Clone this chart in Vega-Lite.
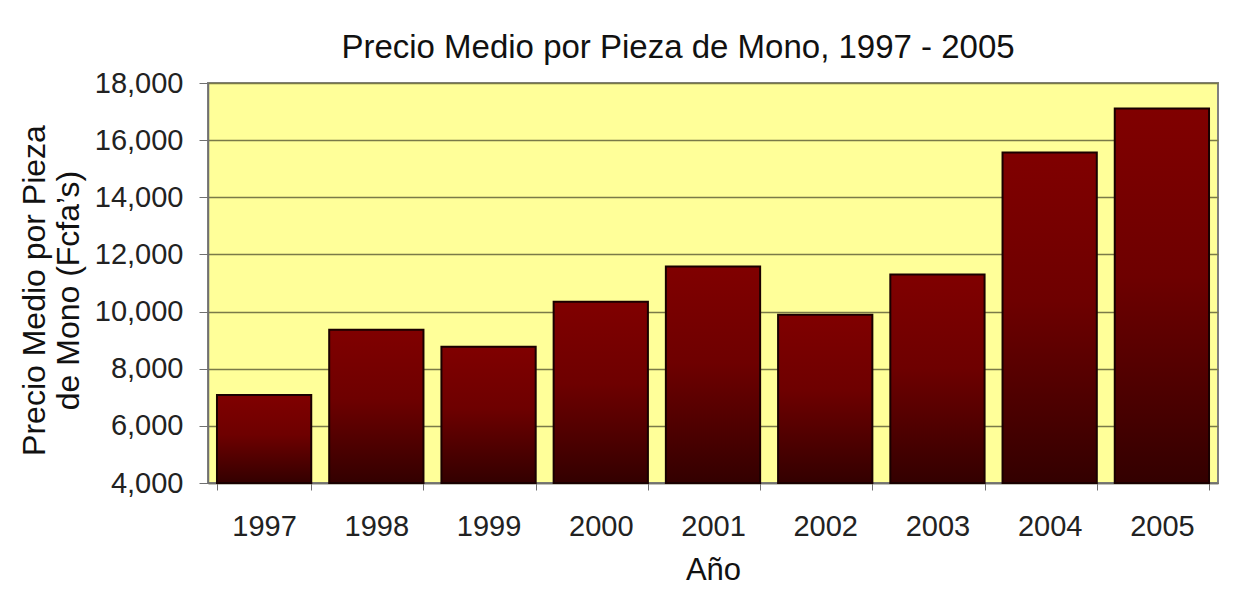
{
  "$schema": "https://vega.github.io/schema/vega-lite/v6.json",
  "autosize": "none",
  "width": 1010,
  "height": 400,
  "padding": {"left": 208, "top": 83, "right": 22, "bottom": 106},
  "background": "white",
  "title": {
    "text": "Precio Medio por Pieza de Mono, 1997 - 2005",
    "font": "Liberation Sans",
    "fontSize": 33,
    "fontWeight": "normal",
    "color": "#111111",
    "anchor": "middle",
    "dx": -35,
    "offset": 4
  },
  "data": {
    "values": [
      {"Año": "1997", "Precio": 7080},
      {"Año": "1998", "Precio": 9360},
      {"Año": "1999", "Precio": 8770},
      {"Año": "2000", "Precio": 10340},
      {"Año": "2001", "Precio": 11580},
      {"Año": "2002", "Precio": 9890},
      {"Año": "2003", "Precio": 11300},
      {"Año": "2004", "Precio": 15570},
      {"Año": "2005", "Precio": 17110}
    ]
  },
  "mark": {
    "type": "bar",
    "stroke": "#1a0000",
    "strokeWidth": 2,
    "color": {
      "gradient": "linear",
      "x1": 0, "y1": 0, "x2": 0, "y2": 1,
      "stops": [
        {"offset": 0, "color": "#800000"},
        {"offset": 0.45, "color": "#6e0000"},
        {"offset": 1, "color": "#330000"}
      ]
    }
  },
  "encoding": {
    "x": {
      "field": "Año",
      "type": "ordinal",
      "scale": {"paddingInner": 0.16, "paddingOuter": 0.08},
      "axis": {
        "title": "Año",
        "labelAngle": 0,
        "tickBand": "extent",
        "tickSize": 7,
        "tickColor": "#707070",
        "domainColor": "#707070",
        "domainWidth": 1.5,
        "grid": false,
        "labelFont": "Liberation Sans",
        "labelFontSize": 29,
        "labelColor": "#222222",
        "labelPadding": 22,
        "titleFont": "Liberation Sans",
        "titleFontSize": 31,
        "titleFontWeight": "normal",
        "titleColor": "#111111",
        "titlePadding": 14
      }
    },
    "y": {
      "field": "Precio",
      "type": "quantitative",
      "scale": {"domain": [4000, 18000], "nice": false, "zero": false, "clamp": true},
      "axis": {
        "title": ["Precio Medio por Pieza", "de Mono (Fcfa’s)"],
        "values": [4000, 6000, 8000, 10000, 12000, 14000, 16000, 18000],
        "format": ",d",
        "grid": true,
        "gridColor": "#7a7a48",
        "gridWidth": 1.5,
        "tickSize": 9,
        "tickColor": "#707070",
        "domainColor": "#707070",
        "domainWidth": 1.5,
        "labelFont": "Liberation Sans",
        "labelFontSize": 29,
        "labelColor": "#222222",
        "labelPadding": 16,
        "titleFont": "Liberation Sans",
        "titleFontSize": 32,
        "titleFontWeight": "normal",
        "titleColor": "#111111",
        "titleLineHeight": 34,
        "titleAngle": -90,
        "titleAlign": "center",
        "titleBaseline": "top",
        "titleX": -189,
        "titleY": 207
      }
    }
  },
  "config": {
    "view": {"fill": "#ffff99", "stroke": "#808080", "strokeWidth": 2}
  }
}
